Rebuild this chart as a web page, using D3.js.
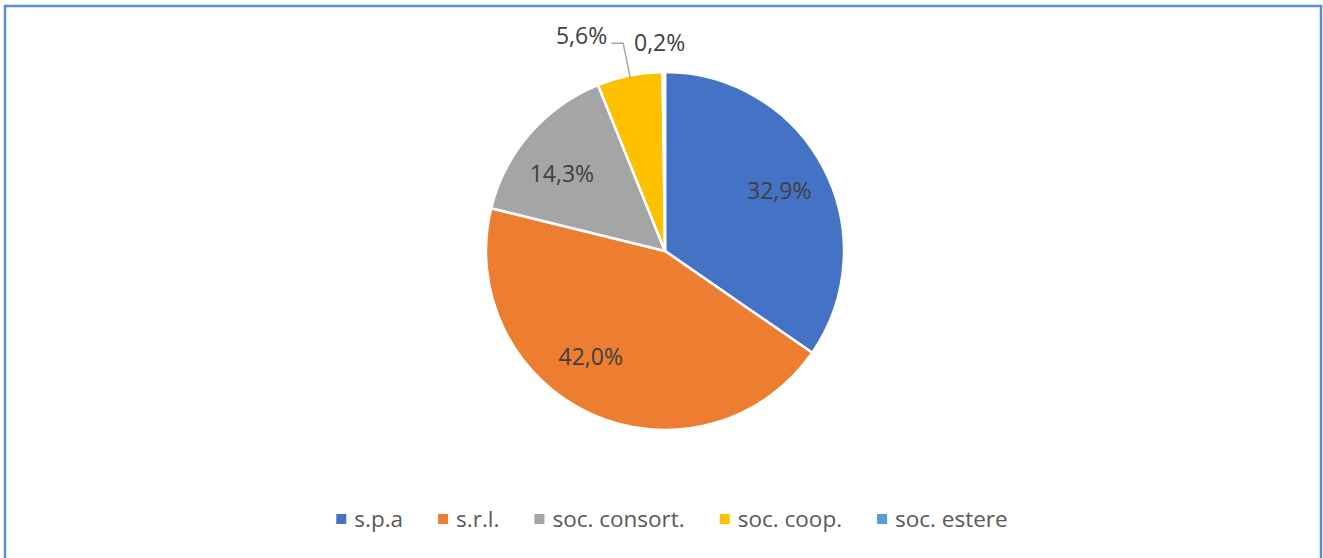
<!DOCTYPE html>
<html>
<head>
<meta charset="utf-8">
<script src="https://cdn.jsdelivr.net/npm/d3@7/dist/d3.min.js"></script>
<style>
  body { margin: 0; background: #fff; }
  svg { display: block; font-family: "Open Sans", sans-serif; }
</style>
</head>
<body>
<div class="chart"></div>
<script>
// data (percent shares)
const categories = ["s.p.a", "s.r.l.", "soc. consort.", "soc. coop.", "soc. estere"];
const shares = [32.9, 42.0, 14.3, 5.6, 0.2];
const labels = ["32,9%", "42,0%", "14,3%", "5,6%", "0,2%"];
const colors = ["#4472C4", "#ED7D31", "#A5A5A5", "#FFC000", "#5B9BD5"];

const width = 1323, height = 558;
const cx = 665, cy = 251, radius = 179;

const svg = d3.select(".chart").append("svg")
  .attr("width", width)
  .attr("height", height);

// frame round the chart
svg.append("rect")
  .attr("x", 5).attr("y", 6)
  .attr("width", 1316).attr("height", 620)
  .attr("fill", "none")
  .attr("stroke", "#5B8ED3")
  .attr("stroke-width", 2.5);

const data = categories.map((c, i) => ({cat: c, value: shares[i], label: labels[i], color: colors[i]}));

const pie = d3.pie().value(d => d.value).sort(null);
const arcs = pie(data);
const arc = d3.arc().innerRadius(0).outerRadius(radius);

const g = svg.append("g").attr("transform", `translate(${cx},${cy})`);

g.selectAll("path.slice")
  .data(arcs)
  .enter().append("path")
  .attr("class", "slice")
  .attr("d", arc)
  .attr("fill", d => d.data.color)
  .attr("stroke", "#fff")
  .attr("stroke-width", 2.5)
  .attr("stroke-linejoin", "round");

// point on a ray from the centre, angle in d3 pie convention
const polar = (a, r) => [r * Math.sin(a), -r * Math.cos(a)];
const mid = d => (d.startAngle + d.endAngle) / 2;

// inside labels (first three slices); excel nudges the big one a bit
const nudge = [0, 0.19, -0.07];
arcs.slice(0, 3).forEach((d, i) => {
  const p = polar(mid(d) + nudge[i], 129);
  g.append("text")
    .attr("x", p[0]).attr("y", p[1])
    .attr("text-anchor", "middle")
    .attr("dy", "0.36em")
    .attr("fill", "#404040")
    .style("font-size", "23px")
    .text(d.data.label);
});

// soc. coop: label outside with leader line
const coop = arcs[3];
const pEnd = polar(mid(coop), radius - 3);
const pElbow = polar(mid(coop), 212);
g.append("polyline")
  .attr("points", [pEnd, pElbow, [pElbow[0] - 12, pElbow[1]]].map(p => p.join(",")).join(" "))
  .attr("fill", "none")
  .attr("stroke", "#A5A5A5")
  .attr("stroke-width", 1.5);
g.append("text")
  .attr("x", pElbow[0] - 16).attr("y", pElbow[1] - 7)
  .attr("text-anchor", "end")
  .attr("dy", "0.36em")
  .attr("fill", "#404040")
  .style("font-size", "23px")
  .text(coop.data.label);

// soc. estere: tiny slice, label just above it
const est = arcs[4];
const pEst = polar(mid(est), 208);
g.append("text")
  .attr("x", pEst[0] - 4).attr("y", pEst[1])
  .attr("text-anchor", "middle")
  .attr("dy", "0.36em")
  .attr("fill", "#404040")
  .style("font-size", "23px")
  .text(est.data.label);

// legend, centred under the pie
const legend = svg.append("g").attr("class", "legend");
const box = 10, gapText = 8, gapItem = 35;
let xPos = 0;
const items = legend.selectAll("g.item")
  .data(data)
  .enter().append("g")
  .attr("class", "item");
items.append("rect")
  .attr("width", box).attr("height", box)
  .attr("y", -box / 2)
  .attr("fill", d => d.color);
items.append("text")
  .attr("x", box + gapText)
  .attr("dy", "0.36em")
  .attr("fill", "#595959")
  .style("font-size", "22.5px")
  .text(d => d.cat);
items.each(function() {
  const w = this.querySelector("text").getComputedTextLength();
  d3.select(this).attr("transform", `translate(${xPos},0)`);
  xPos += box + gapText + w + gapItem;
});
const total = xPos - gapItem;
legend.attr("transform", `translate(${672 - total / 2},519)`);
</script>
</body>
</html>
